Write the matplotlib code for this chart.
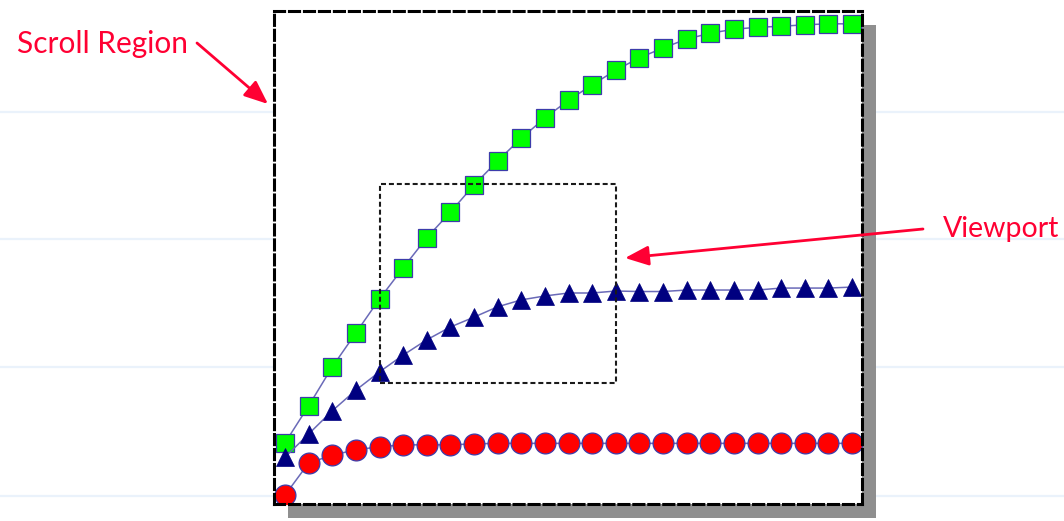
import matplotlib
matplotlib.use("Agg")
import matplotlib.pyplot as plt
from matplotlib.patches import Rectangle
import numpy as np

# ---- data (values on a 0-100 scale of the scroll region height) ----
x_index = list(range(25))
green_squares = [12.4, 19.9, 27.8, 34.7, 41.6, 47.9, 54.0, 59.2, 64.7, 69.6,
                 74.2, 78.3, 81.9, 85.0, 88.0, 90.5, 92.5, 94.3, 95.5, 96.3,
                 96.7, 96.9, 97.2, 97.4, 97.4]
navy_triangles = [9.5, 14.2, 18.9, 23.1, 26.8, 30.2, 33.3, 35.9, 37.9, 40.0,
                  41.4, 42.2, 42.8, 42.8, 43.2, 43.1, 43.1, 43.4, 43.4, 43.4,
                  43.4, 43.8, 43.8, 43.8, 44.0]
red_circles = [1.8, 8.3, 9.9, 11.0, 11.6, 12.0, 12.0, 12.0, 12.2, 12.3,
               12.3, 12.3, 12.3, 12.3, 12.3, 12.3, 12.3, 12.3, 12.3, 12.3,
               12.3, 12.3, 12.3, 12.3, 12.3]
viewport_x = [4, 14]
viewport_y = [24.5, 64.9]
labels = ["Scroll Region", "Viewport"]

W, H = 1064, 521
fig = plt.figure(figsize=(W / 100, H / 100), dpi=100)
fig.patch.set_facecolor("white")

# background layer (pixel coordinates)
bg = fig.add_axes([0, 0, 1, 1], zorder=0)
bg.set_xlim(0, W)
bg.set_ylim(H, 0)
bg.axis("off")
for yy in [112, 239, 367, 496]:
    bg.plot([0, W], [yy, yy], color="#eaf2fb", lw=1.6, solid_capstyle="butt", zorder=1)
bg.add_patch(Rectangle((288, 25), 588, 493, facecolor="#8f8f8f",
                       edgecolor="none", zorder=3))

# main chart (scroll region)
L, R, T, B = 274, 862, 11, 504
ax = fig.add_axes([L / W, (H - B) / H, (R - L) / W, (B - T) / H], zorder=1)
ax.set_facecolor("white")
px_per_unit = 23.625
ax.set_xlim(-11 / px_per_unit, 24 + 10 / px_per_unit)
ax.set_ylim(0, 100)
ax.set_xticks([])
ax.set_yticks([])
for s in ax.spines.values():
    s.set_linestyle((0, (3.3, 1.6)))
    s.set_linewidth(2.2)
    s.set_color("black")

line_col = "#6a6ab8"
edge_col = "#3c3caa"
ax.plot(x_index, green_squares, color=line_col, lw=1.1, marker="s", ms=13.5,
        mfc="#00ff00", mec=edge_col, mew=0.9)
ax.plot(x_index, navy_triangles, color=line_col, lw=1.1, marker="^", ms=13.5,
        mfc="#000080", mec="#000080", mew=0.5)
ax.plot(x_index, red_circles, color=line_col, lw=1.1, marker="o", ms=15,
        mfc="#ff0000", mec=edge_col, mew=0.9)

ax.add_patch(Rectangle((viewport_x[0], viewport_y[0]),
                       viewport_x[1] - viewport_x[0], viewport_y[1] - viewport_y[0],
                       fill=False, edgecolor="#1a1a1a", lw=1.5,
                       linestyle=(0, (2.4, 1.4)), zorder=4))

# annotation layer (pixel coordinates)
top = fig.add_axes([0, 0, 1, 1], zorder=3)
top.set_xlim(0, W)
top.set_ylim(H, 0)
top.axis("off")
top.patch.set_alpha(0)
red = "#ff0033"
top.text(17, 53, labels[0], color=red, fontsize=21.5, family="Lato",
         ha="left", va="baseline")
top.text(943, 237, labels[1], color=red, fontsize=20.5, family="Lato",
         ha="left", va="baseline")
arrow = dict(arrowstyle="-|>,head_length=0.6,head_width=0.25", color=red,
             lw=2.0, mutation_scale=24, shrinkA=0, shrinkB=0)
top.annotate("", xy=(268, 104), xytext=(197, 43), arrowprops=arrow)
top.annotate("", xy=(625, 258), xytext=(923, 229), arrowprops=arrow)

fig.savefig("out.png", dpi=100)
